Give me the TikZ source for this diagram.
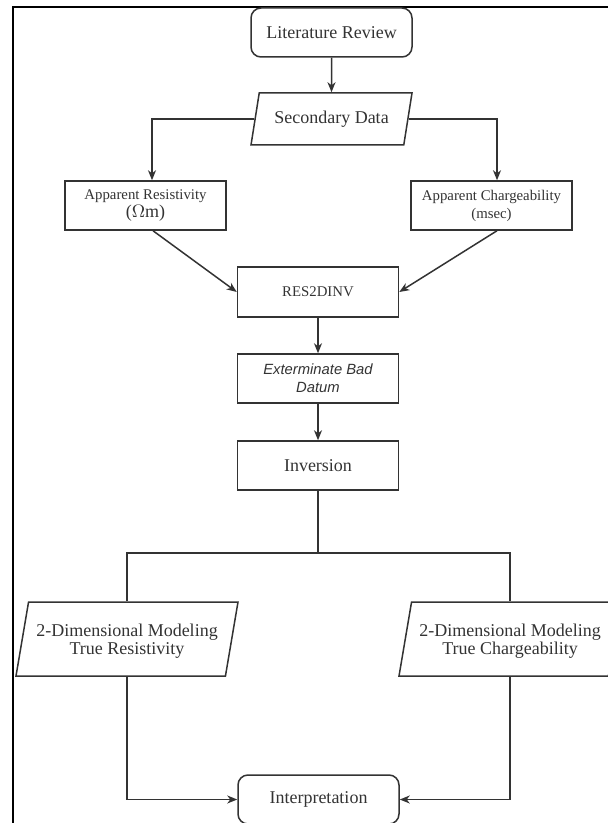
\documentclass[tikz,border=0pt]{standalone}
\usepackage{fontspec}
\setmainfont{Liberation Serif}
\newfontfamily\flowsans{Liberation Sans}
\usetikzlibrary{arrows.meta,shapes.geometric}
\definecolor{flowgray}{HTML}{333333}
\tikzset{every node/.append style={text=flowgray}}
\tikzset{
  flowbox/.style={draw=flowgray, line width=0.75pt, minimum width=80.5pt, minimum height=24.5pt, inner sep=1pt, align=center},
  roundbox/.style={flowbox, rounded corners=5pt},
  databox/.style={draw=flowgray, line width=0.75pt, shape=trapezium, trapezium stretches body,
    trapezium left angle=#1, trapezium right angle=180-#1, inner sep=1pt, align=center},
  bigtext/.style={font=\fontsize{9}{9}\selectfont},
  smalltext/.style={font=\fontsize{7.4}{9}\selectfont},
  flowline/.style={draw=flowgray, line width=0.75pt},
  flowarrow/.style={flowline, -{Stealth[length=5pt,width=4pt,inset=1.5pt]}}
}

\begin{document}
\begin{tikzpicture}[x=0.5pt, y=-0.5pt]
    \useasboundingbox (0,0) rectangle (608,823);
    \draw[line width=1pt] (13,830) -- (13,7) -- (620,7);

    \node[roundbox, bigtext] (lit) at (331.5,32.5) {Literature Review};
    \node[databox=68, bigtext, minimum width=80.5pt, minimum height=26pt] (sec) at (331.5,119) {Secondary Data};
    \node[flowbox, smalltext] (res) at (145.5,205.5) {Apparent Resistivity\\{\fontsize{9}{9}\selectfont($\Omega$m)}};
    \node[flowbox, smalltext] (chg) at (491.5,205.5) {Apparent Chargeability\\(msec)};
    \node[flowbox, smalltext, minimum height=25pt] (rd) at (318,292) {RES2DINV};
    \node[flowbox, smalltext, font=\flowsans\itshape\fontsize{7.4}{9}\selectfont] (ext) at (318,378.5) {Exterminate Bad\\Datum};
    \node[flowbox, bigtext] (inv) at (318,465.5) {Inversion};
    \node[databox=70, bigtext, minimum width=111pt, minimum height=37pt, text depth=0pt] (mres) at (127,639) {2-Dimensional Modeling\\True Resistivity};
    \node[databox=70, bigtext, minimum width=111pt, minimum height=37pt, text depth=0pt] (mchg) at (510,639) {2-Dimensional Modeling\\True Chargeability};
    \node[roundbox, bigtext] (intp) at (318.5,799.5) {Interpretation};
    \coordinate (split) at (318,553);

    \draw[flowarrow] (lit) -- (sec);
    \draw[flowarrow] (sec.west) -| ([xshift=3.25pt]res.north);
    \draw[flowarrow] (sec.east) -| ([xshift=2.75pt]chg.north);
    \draw[flowarrow] ([xshift=3.75pt]res.south) -- (rd.west);
    \draw[flowarrow] ([xshift=2.75pt]chg.south) -- (rd.east);
    \draw[flowarrow] (rd) -- (ext);
    \draw[flowarrow] (ext) -- (inv);
    \draw[flowline] (inv) -- (split);
    \draw[flowline] (split) -| (mres.north);
    \draw[flowline] (split) -| (mchg.north);
    \draw[flowarrow] (mres.south) |- (intp.west);
    \draw[flowarrow] (mchg.south) |- (intp.east);

  \end{tikzpicture}
\end{document}
